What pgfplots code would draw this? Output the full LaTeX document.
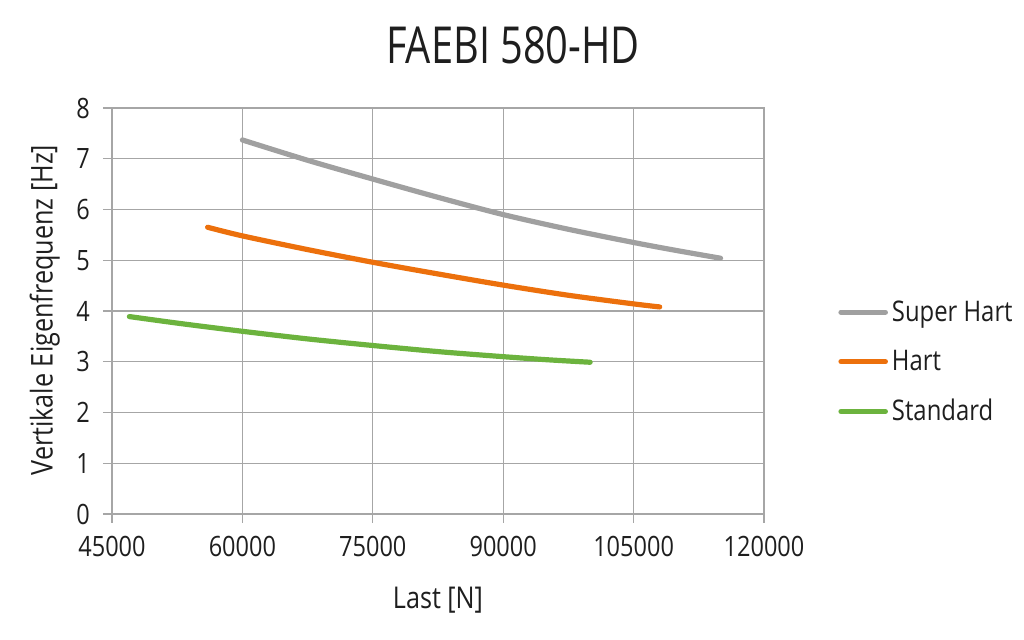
\documentclass[border=0pt]{standalone}
\usepackage{fontspec}
\setmainfont{Open Sans}[FakeStretch=0.84]
\newfontfamily\titlefont{Open Sans}[FakeStretch=0.78]
\usepackage{pgfplots}
\pgfplotsset{compat=1.18}
\definecolor{gridgray}{HTML}{A6A6A6}
\definecolor{sgray}{HTML}{A0A0A0}
\definecolor{sorange}{HTML}{EC700C}
\definecolor{sgreen}{HTML}{6CB33E}
\definecolor{txt}{HTML}{1E1E1E}
\begin{document}
\begin{tikzpicture}[x=1pt,y=1pt]
\useasboundingbox (0,0) rectangle (512,320);
\node[font=\titlefont\fontsize{25.5}{28}\selectfont, text=txt] at (256.5,297.5) {FAEBI 580-HD};
\begin{axis}[
  at={(56pt,63pt)}, anchor=south west,
  scale only axis, width=326pt, height=203pt,
  xmin=45000, xmax=120000, ymin=0, ymax=8,
  xtick={45000,60000,...,120000}, ytick={0,1,...,8},
  scaled x ticks=false,
  /pgf/number format/assume math mode=true,
  xticklabel={\pgfmathprintnumber[fixed,set thousands separator={}]{\tick}},
  grid=major,
  grid style={gridgray, line width=0.6pt},
  axis line style={gridgray, line width=0.6pt},
  tick style={gridgray, line width=0.6pt},
  tick align=outside, major tick length=4.5pt,
  xtick pos=bottom, ytick pos=left,
  ticklabel style={font=\fontsize{14}{16}\selectfont, text=txt},
  xticklabel style={yshift=-3pt},
  yticklabel style={xshift=-3pt},
  xlabel={Last [N]}, ylabel={Vertikale Eigenfrequenz [Hz]},
  label style={font=\fontsize{15}{17}\selectfont, text=txt},
  xlabel style={at={(axis description cs:0.5,-0.212)}, anchor=center},
  ylabel style={at={(axis description cs:-0.103,0.502)}, anchor=center},
  legend style={at={(axis description cs:1.1135,0.374)}, anchor=west, draw=none, fill=none,
    font=\fontsize{14.2}{16}\selectfont, text=txt, row sep=9pt, inner sep=0pt,
    /tikz/every even column/.append style={column sep=0pt}},
  legend cell align=left,
  legend image code/.code={\draw[#1, line cap=round] (0cm,0cm) -- (0.78cm,0cm);},
  every axis plot/.append style={line width=2.6pt, line cap=round, smooth},
]
\addplot[sgray] coordinates {
 (60000,7.37) (67500,6.97) (75000,6.60) (82500,6.24) (90000,5.90) (97500,5.61) (105000,5.35) (110000,5.19) (115000,5.04)};
\addlegendentry{Super Hart}
\addplot[sorange] coordinates {
 (56000,5.65) (60000,5.48) (67500,5.21) (75000,4.96) (82500,4.73) (90000,4.51) (97500,4.31) (105000,4.14) (108000,4.08)};
\addlegendentry{Hart}
\addplot[sgreen] coordinates {
 (47000,3.89) (53000,3.75) (60000,3.60) (67500,3.45) (75000,3.32) (82500,3.20) (90000,3.10) (95000,3.04) (100000,2.99)};
\addlegendentry{Standard}
\end{axis}
\end{tikzpicture}
\end{document}
